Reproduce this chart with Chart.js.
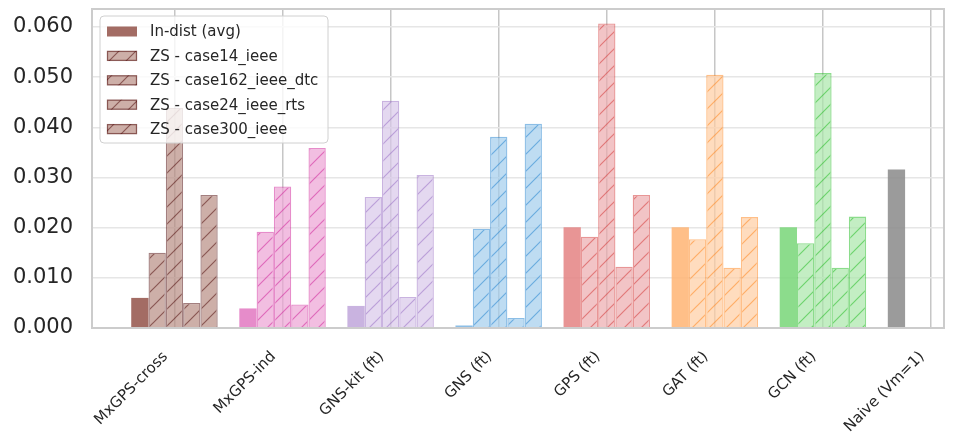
<!DOCTYPE html>
<html>
<head>
<meta charset="utf-8">
<script src="https://cdn.jsdelivr.net/npm/chart.js@4"></script>
<style>
  html, body { margin: 0; padding: 0; background: #fff; }
  #wrap { width: 960px; height: 441px; }
</style>
</head>
<body>
<div id="wrap"><canvas id="chart" width="960" height="441"></canvas></div>
<script>
// categories and series
const models = ['MxGPS-cross', 'MxGPS-ind', 'GNS-kit (ft)', 'GNS (ft)', 'GPS (ft)', 'GAT (ft)', 'GCN (ft)', 'Naive (Vm=1)'];
const seriesNames = ['In-dist (avg)', 'ZS - case14_ieee', 'ZS - case162_ieee_dtc', 'ZS - case24_ieee_rts', 'ZS - case300_ieee'];
const inDist = [0.0060, 0.0039, 0.0044, 0.0005, 0.0201, 0.0201, 0.0201, 0.0316];
const zs14   = [0.0150, 0.0192, 0.0261, 0.0198, 0.0182, 0.0177, 0.0169, null];
const zs162  = [0.0439, 0.0282, 0.0453, 0.0381, 0.0607, 0.0505, 0.0508, null];
const zs24   = [0.0050, 0.0047, 0.0062, 0.0020, 0.0122, 0.0120, 0.0120, null];
const zs300  = [0.0265, 0.0359, 0.0305, 0.0407, 0.0265, 0.0221, 0.0222, null];
const yTicks = [0, 0.01, 0.02, 0.03, 0.04, 0.05, 0.06];

// colours per model: solid (in-dist), light fill (zero-shot), edge/hatch
const solidCols = ['#a36c64', '#e68cca', '#c9b3e0', '#8cbee6', '#e89696', '#ffbf88', '#8cdc8c', '#9b9b9b'];
const lightCols = ['#cdafa8', '#f2bee1', '#e4d8f0', '#bedcf2', '#f2c4c6', '#ffdcbe', '#c3eec3', '#d0d0d0'];

function rgbaOver(hex, a) {
    // colour that gives `hex` on white when drawn with alpha a
    const n = parseInt(hex.slice(1), 16);
    const c = [(n >> 16) & 255, (n >> 8) & 255, n & 255].map(v => Math.round(255 - (255 - v) / a));
    return `rgba(${c[0]},${c[1]},${c[2]},${a})`;
}

function hatch(fill, line) {
    const s = 17;
    const c = document.createElement('canvas');
    c.width = s; c.height = s;
    const g = c.getContext('2d');
    g.fillStyle = fill;
    g.fillRect(0, 0, s, s);
    g.strokeStyle = line;
    g.lineWidth = 1.2;
    g.beginPath();
    g.moveTo(-1, s + 1); g.lineTo(s + 1, -1);
    g.moveTo(-2, 2); g.lineTo(2, -2);
    g.moveTo(s - 2, s + 2); g.lineTo(s + 2, s - 2);
    g.stroke();
    return g.createPattern(c, 'repeat');
}

const ctx = document.getElementById('chart').getContext('2d');
const solidFill = solidCols.map(c => rgbaOver(c, 0.85));
const edgeCols = solidCols.map(c => rgbaOver(c, 0.5));
const zsFill = lightCols.map((c, i) => hatch(rgbaOver(c, 0.7), edgeCols[i]));

const zsSeries = [zs14, zs162, zs24, zs300];
const datasets = [{
    label: seriesNames[0],
    data: inDist.map((v, i) => ({ x: i, y: v })),
    backgroundColor: solidFill,
    borderWidth: 0
}].concat(zsSeries.map((vals, k) => ({
    label: seriesNames[k + 1],
    data: vals.map((v, i) => ({ x: i, y: v })),
    backgroundColor: zsFill,
    borderColor: edgeCols,
    borderWidth: 1.3
})));

const framePlugin = {
    id: 'frame',
    afterDatasetsDraw(chart) {
        const a = chart.chartArea, c = chart.ctx;
        c.save();
        c.strokeStyle = '#cccccc';
        c.lineWidth = 2;
        c.strokeRect(a.left, a.top, a.right - a.left, a.bottom - a.top);
        c.restore();
    }
};

const legendPlugin = {
    id: 'boxLegend',
    afterDraw(chart) {
        const c = chart.ctx;
        const x = 100, y = 16, w = 228, h = 127, r = 4;
        c.save();
        c.beginPath();
        c.roundRect(x, y, w, h, r);
        c.fillStyle = 'rgba(255,255,255,0.8)';
        c.fill();
        c.strokeStyle = '#d0d0d0';
        c.lineWidth = 1;
        c.stroke();
        c.font = '15px "DejaVu Sans"';
        c.textBaseline = 'middle';
        seriesNames.forEach((name, i) => {
            const cy = 31.5 + i * 24.4;
            if (i === 0) {
                c.fillStyle = solidFill[0];
                c.fillRect(107, cy - 5, 30, 10);
            } else {
                c.fillStyle = zsFill[0];
                c.fillRect(107, cy - 5, 30, 10);
                c.strokeStyle = edgeCols[0];
                c.lineWidth = 1.3;
                c.strokeRect(107.5, cy - 4.5, 29, 9);
            }
            c.fillStyle = '#262626';
            c.fillText(name, 150, cy + 1);
        });
        c.restore();
    }
};

new Chart(ctx, {
    type: 'bar',
    data: { datasets: datasets },
    options: {
        responsive: false,
        animation: false,
        layout: { padding: { top: 9, right: 16, bottom: 0, left: 0 } },
        datasets: { bar: { categoryPercentage: 0.8, barPercentage: 1.0, grouped: true } },
        plugins: { legend: { display: false }, tooltip: { enabled: false } },
        scales: {
            x: {
                type: 'linear',
                offset: false,
                min: -0.763,
                max: 7.12,
                afterBuildTicks: s => { s.ticks = models.map((_, i) => ({ value: i })); },
                afterFit: s => { s.height = 113; s.paddingLeft = 0; s.paddingRight = 0; },
                grid: { color: '#c6c6c6', lineWidth: 1.5, drawTicks: false, offset: false },
                border: { display: false },
                ticks: {
                    autoSkip: false,
                    minRotation: 45,
                    maxRotation: 45,
                    padding: 20,
                    labelOffset: -9,
                    color: '#262626',
                    font: { family: 'DejaVu Sans', size: 15 },
                    callback: v => models[v]
                }
            },
            y: {
                min: 0,
                max: 0.06358,
                afterBuildTicks: s => { s.ticks = yTicks.map(v => ({ value: v })); },
                afterFit: s => { s.width = 92; s.paddingTop = 0; s.paddingBottom = 0; },
                grid: { color: '#e6e6e6', lineWidth: 1.5, drawTicks: false },
                border: { display: false },
                ticks: {
                    padding: 19,
                    color: '#262626',
                    font: { family: 'DejaVu Sans', size: 21 },
                    callback: v => v.toFixed(3)
                }
            }
        }
    },
    plugins: [framePlugin, legendPlugin]
});
</script>
</body>
</html>
